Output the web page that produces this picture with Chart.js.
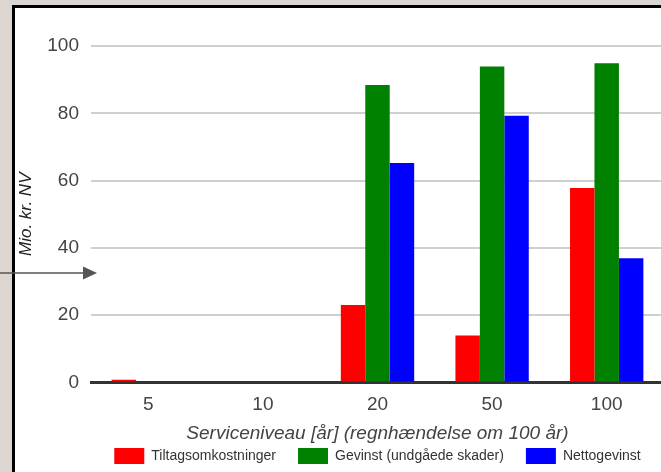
<!DOCTYPE html>
<html>
<head>
<meta charset="utf-8">
<script src="https://cdn.jsdelivr.net/npm/chart.js@4/dist/chart.umd.min.js"></script>
<style>
  html, body { margin: 0; padding: 0; overflow: hidden; background: #ddd6d0; }
  #wrap { width: 661px; height: 472px; overflow: hidden; position: relative; }
  canvas { display: block; }
</style>
</head>
<body>
<div id="wrap"><canvas id="c" width="664" height="474"></canvas></div>
<script>
// Serviceniveau (return period, years)
const categories = ['5', '10', '20', '50', '100'];
// Mio. kr. NV per service level
const tiltagsomkostninger = [0.8, 0, 23.0, 14.0, 57.8];
const gevinst = [0, 0, 88.4, 93.9, 94.9];
const nettogevinst = [0, 0, 65.2, 79.3, 36.9];
const yTicks = [0, 20, 40, 60, 80, 100];

const FONT = "'Liberation Sans', Arial, sans-serif";

// Grey page behind a white panel with a black frame
const panelPlugin = {
  id: 'panel',
  beforeDraw(chart) {
    const ctx = chart.ctx;
    ctx.save();
    ctx.fillStyle = '#ddd6d0';
    ctx.fillRect(0, 0, chart.width, chart.height);
    ctx.fillStyle = '#000';
    ctx.fillRect(12, 5, chart.width, chart.height);
    ctx.fillStyle = '#fff';
    ctx.fillRect(15, 8, chart.width, chart.height);
    ctx.restore();
  },
  afterDraw(chart) {
    // pointer arrow coming in from the left
    const ctx = chart.ctx;
    ctx.save();
    ctx.strokeStyle = '#555';
    ctx.fillStyle = '#555';
    ctx.lineWidth = 1.5;
    ctx.beginPath();
    ctx.moveTo(0, 273);
    ctx.lineTo(84, 273);
    ctx.stroke();
    ctx.beginPath();
    ctx.moveTo(83, 266.5);
    ctx.lineTo(97, 273);
    ctx.lineTo(83, 279.5);
    ctx.closePath();
    ctx.fill();
    ctx.restore();
  }
};

new Chart(document.getElementById('c'), {
  type: 'bar',
  data: {
    labels: categories,
    datasets: [
      { label: 'Tiltagsomkostninger', data: tiltagsomkostninger, backgroundColor: '#ff0000' },
      { label: 'Gevinst (undgåede skader)', data: gevinst, backgroundColor: '#008000' },
      { label: 'Nettogevinst', data: nettogevinst, backgroundColor: '#0000ff' }
    ]
  },
  options: {
    responsive: false,
    animation: false,
    devicePixelRatio: 1,
    layout: { padding: { top: 46, left: 0, right: 0, bottom: 0 } },
    datasets: {
      bar: { categoryPercentage: 0.64, barPercentage: 1.0, borderWidth: 0 }
    },
    plugins: {
      tooltip: { enabled: false },
      legend: {
        position: 'bottom',
        fullSize: false,
        labels: {
          boxWidth: 30,
          boxHeight: 16,
          padding: 22,
          color: '#333',
          font: { family: FONT, size: 14 }
        }
      }
    },
    scales: {
      x: {
        grid: { display: false },
        border: { display: true, color: '#333', width: 3 },
        ticks: { color: '#444', padding: 3, font: { family: FONT, size: 19 } },
        title: {
          display: true,
          text: 'Serviceniveau [år] (regnhændelse om 100 år)',
          color: '#444',
          font: { family: FONT, size: 19, style: 'italic' },
          padding: { top: 0, bottom: -19.5 }
        },
        afterFit(scale) { scale.height = 43.5; }
      },
      y: {
        min: 0,
        max: 100,
        afterBuildTicks(scale) { scale.ticks = yTicks.map(v => ({ value: v })); },
        grid: {
          drawTicks: false,
          lineWidth: 2,
          color: ctx => (ctx.tick && ctx.tick.value === 0) ? 'rgba(0,0,0,0)' : '#cfcfcf'
        },
        border: { display: false },
        ticks: { color: '#444', padding: 12, font: { family: FONT, size: 19 } },
        title: {
          display: true,
          text: 'Mio. kr. NV',
          color: '#222',
          font: { family: FONT, size: 17, style: 'italic' },
          padding: { top: 16, bottom: 0 }
        },
        afterFit(scale) { scale.width = 91; }
      }
    }
  },
  plugins: [panelPlugin]
});
</script>
</body>
</html>
